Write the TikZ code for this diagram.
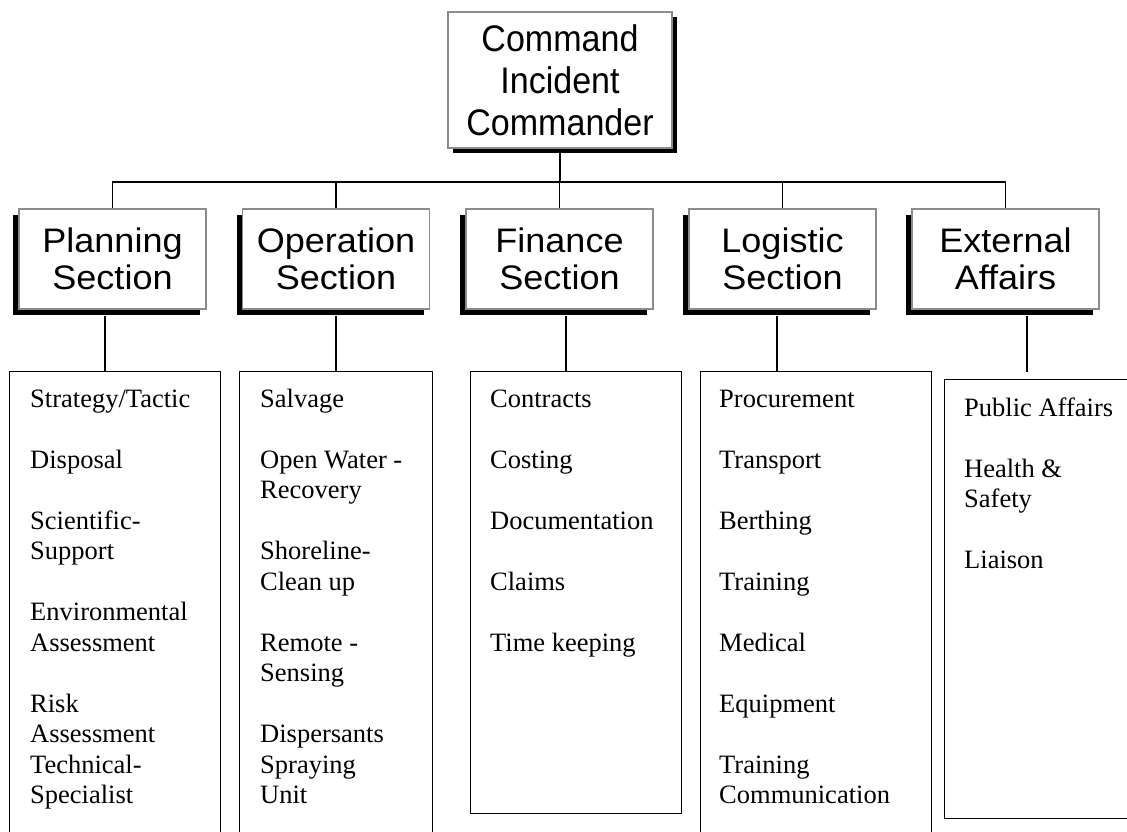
\documentclass[tikz,border=0pt]{standalone}
\usepackage{fontspec}
\usetikzlibrary{shadows}
\newfontfamily\listfont{Liberation Serif}
\newfontfamily\secfont[FakeStretch=1.06]{Liberation Sans}
\newfontfamily\topfont[FakeStretch=0.92]{Liberation Sans}
\definecolor{bordergray}{gray}{0.55}
\newcommand{\gap}{\\[30.5pt]}
\tikzset{
  headbox/.style={draw=bordergray, line width=1.6pt, fill=white, align=center, inner sep=0pt},
  secbox/.style={headbox, minimum width=187pt, minimum height=100pt,
    font=\secfont\fontsize{34}{37}\selectfont,
    drop shadow={shadow xshift=-6pt, shadow yshift=-6pt, fill=black, opacity=1}},
  topbox/.style={headbox, minimum width=224pt, minimum height=136pt,
    font=\topfont\fontsize{37}{42}\selectfont,
    drop shadow={shadow xshift=5pt, shadow yshift=-5pt, fill=black, opacity=1}},
  listbox/.style={draw=black, line width=1.2pt, fill=white, anchor=north west, inner sep=0pt},
  listtext/.style={anchor=north west, inner sep=0pt, align=left,
    font=\listfont\fontsize{26.5}{30.5}\selectfont},
  conn/.style={draw=black, line width=1.3pt}
}
\begin{document}
\begin{tikzpicture}[x=1pt, y=-1pt]
\clip (0,0) rectangle (1127,831);
\fill[white] (0,0) rectangle (1127,831);

% coordinates
\coordinate (bus) at (0,182);
\coordinate (pc) at (105,0);
\coordinate (oc) at (336,0);
\coordinate (fc) at (566,0);
\coordinate (lc) at (777,0);
\coordinate (ec) at (1027,0);
\coordinate (extend) at (1027,372);

% list boxes
\node[listbox, minimum width=211pt, minimum height=480pt] (planL) at (9,371) {};
\node[listbox, minimum width=193pt, minimum height=480pt] (operL) at (239,371) {};
\node[listbox, minimum width=211pt, minimum height=442pt] (finL) at (470,371) {};
\node[listbox, minimum width=231pt, minimum height=480pt] (logL) at (700,371) {};
\node[listbox, minimum width=200pt, minimum height=439pt] (extL) at (944,379) {};

% list texts
\node[listtext] (planT) at (30,387) {\rule{0pt}{20pt}Strategy/Tactic\gap Disposal\gap Scientific-\\Support\gap Environmental\\Assessment\gap Risk\\Assessment\\Technical-\\Specialist};
\node[listtext] (operT) at (260,387) {\rule{0pt}{20pt}Salvage\gap Open Water -\\Recovery\gap Shoreline-\\Clean up\gap Remote -\\Sensing\gap Dispersants\\Spraying\\Unit};
\node[listtext] (finT) at (490,387) {\rule{0pt}{20pt}Contracts\gap Costing\gap Documentation\gap Claims\gap Time keeping};
\node[listtext] (logT) at (719,387) {\rule{0pt}{20pt}Procurement\gap Transport\gap Berthing\gap Training\gap Medical\gap Equipment\gap Training\\Communication};
\node[listtext] (extT) at (964,396) {\rule{0pt}{20pt}Public Affairs\gap Health \&\\Safety\gap Liaison};

% header boxes
\node[topbox] (top) at (560,80) {Command\\Incident\\Commander};
\node[secbox] (plan) at (112.5,259) {Planning\\Section};
\node[secbox] (oper) at (336,259) {Operation\\Section};
\node[secbox] (fin) at (559.5,259) {Finance\\Section};
\node[secbox] (log) at (782.5,259) {Logistic\\Section};
\node[secbox] (ext) at (1005.5,259) {External\\Affairs};

% connectors
\draw[conn] (top.south) -- (top.south |- bus);
\draw[conn] (plan.north) -- (plan.north |- bus) -| (ext.north);
\draw[conn] (oper.north) -- (oper.north |- bus);
\draw[conn] (fin.north) -- (fin.north |- bus);
\draw[conn] (log.north) -- (log.north |- bus);

\draw[conn] ([yshift=-6pt]plan.south -| pc) -- (planL.north -| pc);
\draw[conn] ([yshift=-6pt]oper.south -| oc) -- (operL.north -| oc);
\draw[conn] ([yshift=-6pt]fin.south -| fc) -- (finL.north -| fc);
\draw[conn] ([yshift=-6pt]log.south -| lc) -- (logL.north -| lc);
\draw[conn] ([yshift=-6pt]ext.south -| ec) -- (extend);
\end{tikzpicture}
\end{document}
